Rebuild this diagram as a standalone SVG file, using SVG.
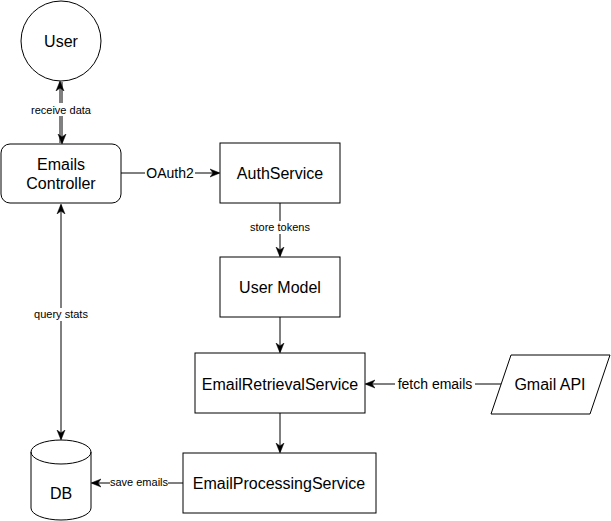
<svg xmlns="http://www.w3.org/2000/svg" width="611" height="521" viewBox="0 0 611 521">
<style>
.n{fill:#fff;stroke:#000;stroke-width:1}
.t{font-family:"Liberation Sans",Arial,sans-serif;font-size:16px;fill:#000;text-anchor:middle;dominant-baseline:central}
.l{font-family:"Liberation Sans",Arial,sans-serif;font-size:11px;fill:#000;text-anchor:middle;dominant-baseline:central}
.lb{font-size:14px}
.e{fill:none;stroke:#000;stroke-width:1}
.bg{fill:#fff}
</style>
<defs>
<marker id="a" viewBox="0 0 10 10" refX="9" refY="5" markerWidth="10" markerHeight="10" markerUnits="userSpaceOnUse" orient="auto-start-reverse">
<path d="M0,1 L10,5 L0,9 L3,5 Z" fill="#000" stroke="#000" stroke-width="0.5"/>
</marker>
</defs>
<rect width="611" height="521" fill="#fff"/>
<g id="connectors">
<line class="e" x1="60" y1="143" x2="60" y2="82" marker-end="url(#a)"/>
<line class="e" x1="62" y1="82" x2="62" y2="143" marker-end="url(#a)" stroke-width="1.5"/>
<rect class="bg" x="29" y="103" width="64" height="13"/>
<text class="l" x="61" y="110">receive data</text>
<line class="e" x1="121" y1="173" x2="219" y2="173" marker-end="url(#a)"/>
<rect class="bg" x="145" y="165" width="50" height="16"/>
<text class="l lb" x="170" y="173">OAuth2</text>
<line class="e" x1="280" y1="203" x2="280" y2="256" marker-end="url(#a)"/>
<rect class="bg" x="248" y="221" width="64" height="13"/>
<text class="l" x="280" y="227">store tokens</text>
<line class="e" x1="280" y1="317" x2="280" y2="352" marker-end="url(#a)"/>
<line class="e" x1="501" y1="384" x2="366" y2="384" marker-end="url(#a)"/>
<rect class="bg" x="395" y="376" width="80" height="16"/>
<text class="l lb" x="435" y="384">fetch emails</text>
<line class="e" x1="183" y1="483" x2="92" y2="483" marker-end="url(#a)"/>
<rect class="bg" x="110" y="476" width="58" height="13"/>
<text class="l" x="139" y="482">save emails</text>
<line class="e" x1="280" y1="413" x2="280" y2="452" marker-end="url(#a)"/>
<line class="e" x1="61" y1="205" x2="61" y2="439" marker-start="url(#a)" marker-end="url(#a)"/>
<rect class="bg" x="31" y="308" width="60" height="13"/>
<text class="l" x="61" y="314">query stats</text>
</g>
<g id="user">
<circle class="n" cx="61" cy="41" r="40"/>
<text class="t" x="61" y="41">User</text>
</g>
<g id="emails-controller">
<rect class="n" x="1" y="144" width="120" height="59" rx="9"/>
<text class="t" x="61" y="164">Emails</text>
<text class="t" x="61" y="183">Controller</text>
</g>
<g id="auth-service">
<rect class="n" x="220" y="143" width="120" height="60"/>
<text class="t" x="280" y="173">AuthService</text>
</g>
<g id="user-model">
<rect class="n" x="220" y="257" width="120" height="60"/>
<text class="t" x="280" y="287">User Model</text>
</g>
<g id="email-retrieval-service">
<rect class="n" x="195" y="353" width="170" height="60"/>
<text class="t" x="280" y="384">EmailRetrievalService</text>
</g>
<g id="gmail-api">
<polygon class="n" points="511,355 610,355 590,414 491,414"/>
<text class="t" x="550" y="384">Gmail API</text>
</g>
<g id="email-processing-service">
<rect class="n" x="183" y="453" width="193" height="60"/>
<text class="t" x="279" y="483">EmailProcessingService</text>
</g>
<g id="db">
<path class="n" d="M31,452 A30,12 0 0 1 91,452 L91,508 A30,12 0 0 1 31,508 Z"/>
<path class="e" d="M31,452 A30,12 0 0 0 91,452"/>
<text class="t" x="61" y="493">DB</text>
</g>
</svg>
